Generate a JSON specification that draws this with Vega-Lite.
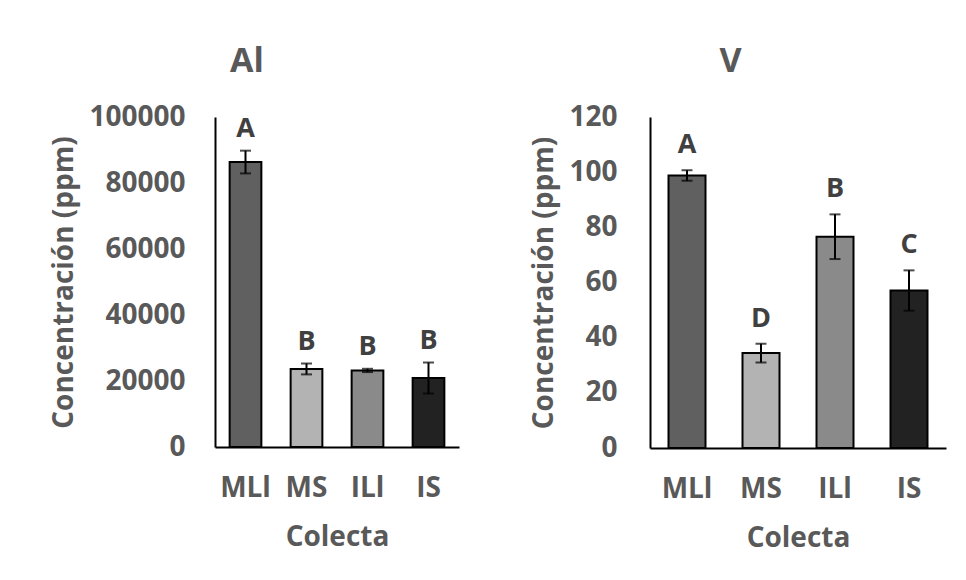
{
  "$schema": "https://vega.github.io/schema/vega-lite/v6.json",
  "background": "white",
  "padding": {"left": 50, "top": 45, "right": 10, "bottom": 10},
  "autosize": {"type": "pad"},
  "spacing": 71,
  "config": {
    "view": {"stroke": null},
    "font": "Open Sans",
    "axis": {
      "labelFont": "Open Sans", "labelFontWeight": "bold", "labelColor": "#595959", "labelFontSize": 28,
      "titleFont": "Open Sans", "titleFontWeight": "bold", "titleColor": "#595959", "titleFontSize": 28,
      "domainColor": "#000000", "domainWidth": 2, "ticks": false, "grid": false
    },
    "title": {"font": "Open Sans", "fontWeight": "bold", "color": "#595959", "fontSize": 34, "frame": "bounds", "offset": 24}
  },
  "hconcat": [
    {
      "title": {"text": "Al", "dx": -8},
      "width": 244,
      "height": 330,
      "data": {"values": [
        {"Colecta": "MLl", "value": 86400, "lo": 82900, "hi": 89800, "letter": "A"},
        {"Colecta": "MS", "value": 23600, "lo": 22000, "hi": 25300, "letter": "B"},
        {"Colecta": "ILl", "value": 23200, "lo": 22700, "hi": 23700, "letter": "B"},
        {"Colecta": "IS", "value": 20900, "lo": 16200, "hi": 25600, "letter": "B"}
      ]},
      "encoding": {
        "x": {"field": "Colecta", "type": "nominal", "sort": ["MLl", "MS", "ILl", "IS"],
              "scale": {"paddingInner": 0.48, "paddingOuter": 0.24},
              "axis": {"labelAngle": 0, "labelPadding": 27, "titlePadding": 21, "title": "Colecta"}}
      },
      "layer": [
        {
          "mark": {"type": "bar", "stroke": "black", "strokeWidth": 2},
          "encoding": {
            "y": {"field": "value", "type": "quantitative", "title": "Concentración (ppm)",
                  "scale": {"domain": [0, 100000], "nice": false},
                  "axis": {"values": [0, 20000, 40000, 60000, 80000, 100000], "format": "d", "labelPadding": 30, "titlePadding": 10}},
            "color": {"field": "Colecta", "type": "nominal",
                      "scale": {"domain": ["MLl", "MS", "ILl", "IS"], "range": ["#606060", "#b3b3b3", "#8a8a8a", "#222222"]},
                      "legend": null}
          }
        },
        {
          "mark": {"type": "rule", "color": "black", "strokeWidth": 2},
          "encoding": {"y": {"field": "lo", "type": "quantitative", "title": "Concentración (ppm)"}, "y2": {"field": "hi"}}
        },
        {
          "mark": {"type": "tick", "color": "black", "thickness": 2, "size": 11},
          "encoding": {"y": {"field": "lo", "type": "quantitative", "title": "Concentración (ppm)"}}
        },
        {
          "mark": {"type": "tick", "color": "black", "thickness": 2, "size": 11},
          "encoding": {"y": {"field": "hi", "type": "quantitative", "title": "Concentración (ppm)"}}
        },
        {
          "mark": {"type": "text", "font": "Open Sans", "fontSize": 27, "fontWeight": "bold", "color": "#404040", "dy": -22, "baseline": "middle"},
          "encoding": {"y": {"field": "hi", "type": "quantitative", "title": "Concentración (ppm)"}, "text": {"field": "letter"}}
        }
      ]
    },
    {
      "title": {"text": "V", "dx": -8},
      "width": 296,
      "height": 331,
      "data": {"values": [
        {"Colecta": "MLl", "value": 98.8, "lo": 96.9, "hi": 100.7, "letter": "A"},
        {"Colecta": "MS", "value": 34.4, "lo": 31.0, "hi": 37.8, "letter": "D"},
        {"Colecta": "ILl", "value": 76.6, "lo": 68.5, "hi": 84.7, "letter": "B"},
        {"Colecta": "IS", "value": 57.1, "lo": 49.8, "hi": 64.4, "letter": "C"}
      ]},
      "encoding": {
        "x": {"field": "Colecta", "type": "nominal", "sort": ["MLl", "MS", "ILl", "IS"],
              "scale": {"paddingInner": 0.5, "paddingOuter": 0.25},
              "axis": {"labelAngle": 0, "labelPadding": 27, "titlePadding": 21, "title": "Colecta"}}
      },
      "layer": [
        {
          "mark": {"type": "bar", "stroke": "black", "strokeWidth": 2},
          "encoding": {
            "y": {"field": "value", "type": "quantitative", "title": "Concentración (ppm)",
                  "scale": {"domain": [0, 120], "nice": false},
                  "axis": {"values": [0, 20, 40, 60, 80, 100, 120], "format": "d", "labelPadding": 33, "titlePadding": 10}},
            "color": {"field": "Colecta", "type": "nominal",
                      "scale": {"domain": ["MLl", "MS", "ILl", "IS"], "range": ["#606060", "#b3b3b3", "#8a8a8a", "#222222"]},
                      "legend": null}
          }
        },
        {
          "mark": {"type": "rule", "color": "black", "strokeWidth": 2},
          "encoding": {"y": {"field": "lo", "type": "quantitative", "title": "Concentración (ppm)"}, "y2": {"field": "hi"}}
        },
        {
          "mark": {"type": "tick", "color": "black", "thickness": 2, "size": 11},
          "encoding": {"y": {"field": "lo", "type": "quantitative", "title": "Concentración (ppm)"}}
        },
        {
          "mark": {"type": "tick", "color": "black", "thickness": 2, "size": 11},
          "encoding": {"y": {"field": "hi", "type": "quantitative", "title": "Concentración (ppm)"}}
        },
        {
          "mark": {"type": "text", "font": "Open Sans", "fontSize": 27, "fontWeight": "bold", "color": "#404040", "dy": -25, "baseline": "middle"},
          "encoding": {"y": {"field": "hi", "type": "quantitative", "title": "Concentración (ppm)"}, "text": {"field": "letter"}}
        }
      ]
    }
  ]
}
